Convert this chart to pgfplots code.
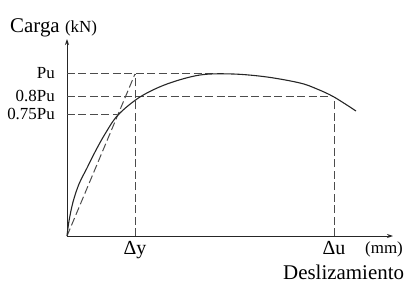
\documentclass[border=0pt]{standalone}
\usepackage{fontspec}
\setmainfont{Liberation Serif}
\usepackage{pgfplots}
\pgfplotsset{compat=1.18}
\usetikzlibrary{arrows.meta}
\begin{document}
\begin{tikzpicture}
\begin{axis}[
 width=326bp, height=197bp, scale only axis,
 xmin=0, xmax=326, ymin=0, ymax=197,
 axis lines=left,
 axis line style={line width=0.9bp, color=black!85, -{Stealth[length=6bp,width=4bp]}},
 xtick=\empty, ytick=\empty,
 clip=false,
]
\path (axis cs:-67,-51) rectangle (axis cs:348,236);
% dashed guide lines
\addplot[color=black!70, line width=1bp, dash pattern=on 8bp off 3.5bp] coordinates {(0,162) (150,162)};
\addplot[color=black!70, line width=1bp, dash pattern=on 8bp off 3.5bp] coordinates {(0,139) (267,139)};
\addplot[color=black!70, line width=1bp, dash pattern=on 8bp off 3.5bp] coordinates {(0,121) (50,121)};
\addplot[color=black!70, line width=1bp, dash pattern=on 8bp off 3.5bp] coordinates {(68,0) (68,162)};
\addplot[color=black!70, line width=1bp, dash pattern=on 8bp off 3.5bp] coordinates {(267,0) (267,139)};
\addplot[color=black!70, line width=1bp, dash pattern=on 8bp off 3.5bp] coordinates {(0,0) (68,162)};
% load-slip curve
\addplot[color=black!85, line width=1.1bp, smooth, tension=0.55] coordinates {
(0,0) (2,15) (6,34) (12,52) (20,68) (28,84) (38,102) (51,121) (73,139) (100,152) (133,161) (166,162) (200,159) (233,153) (250,147) (267,139) (289,125)};
% labels
\node[anchor=base west, inner sep=0, font=\fontsize{21}{21}\selectfont] at (axis cs:-57,203) {Carga {\fontsize{17}{17}\selectfont(kN)}};
\node[anchor=east, inner sep=0, font=\fontsize{17}{17}\selectfont] at (axis cs:-12,163) {Pu};
\node[anchor=east, inner sep=0, font=\fontsize{17}{17}\selectfont] at (axis cs:-12,140) {0.8Pu};
\node[anchor=east, inner sep=0, font=\fontsize{17}{17}\selectfont] at (axis cs:-12,122) {0.75Pu};
\node[anchor=base, inner sep=0, font=\fontsize{20}{20}\selectfont] at (axis cs:68,-18) {Δy};
\node[anchor=base, inner sep=0, font=\fontsize{20}{20}\selectfont] at (axis cs:267,-18) {Δu};
\node[anchor=base west, inner sep=0, font=\fontsize{17}{17}\selectfont] at (axis cs:298,-17) {(mm)};
\node[anchor=base west, inner sep=0, font=\fontsize{21}{21}\selectfont] at (axis cs:216,-43) {Deslizamiento};
\end{axis}
\end{tikzpicture}
\end{document}
